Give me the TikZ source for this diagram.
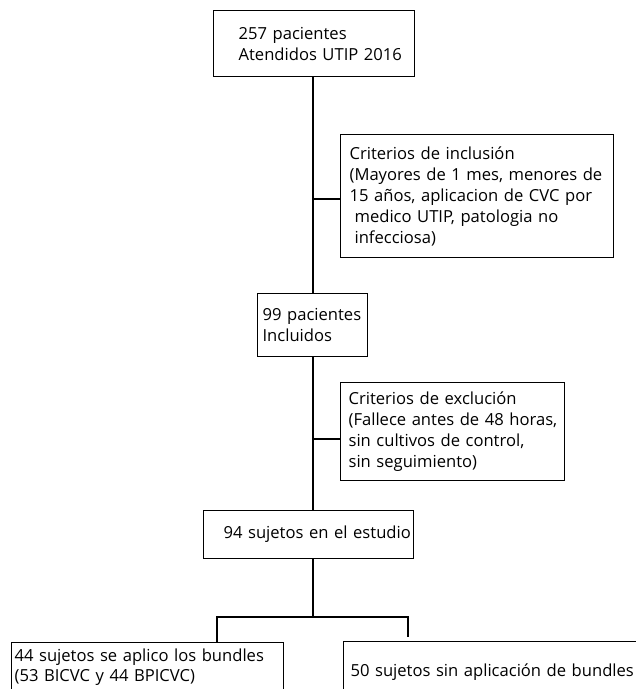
\documentclass[tikz,border=0pt]{standalone}
\usepackage{fontspec}
\setmainfont{Open Sans}
\begin{document}
\begin{tikzpicture}[x=1pt,y=-1pt,
  every node/.style={font=\fontsize{16.6}{21}\selectfont},
  box/.style={draw, line width=1.2pt, anchor=north west, align=left, inner sep=0pt},
  conn/.style={line width=1.2pt}]
\useasboundingbox (0,0) rectangle (636,689);
\clip (0,0) rectangle (636,689);
% boxes
\node[box, text width=201pt, minimum height=66pt] (top) at (213,10)
  {\leftskip=25pt 257 pacientes\\Atendidos UTIP 2016\par};
\node[box, text width=273pt, minimum height=123pt] (incl) at (340,134)
  {\leftskip=9pt Criterios de inclusión\\(Mayores de 1 mes, menores de\\15 años, aplicacion de CVC por\\\hspace*{5pt}medico UTIP, patologia no\\\hspace*{5pt}infecciosa)\par};
\node[box, text width=110pt, minimum height=63pt] (n99) at (257,293)
  {\leftskip=5pt 99 pacientes\\Incluidos\par};
\node[box, text width=224pt, minimum height=98pt] (excl) at (340,382)
  {\leftskip=8pt Criterios de exclución\\(Fallece antes de 48 horas,\\sin cultivos de control,\\sin seguimiento)\par};
\node[box, text width=210pt, minimum height=48pt] (n94) at (203,510)
  {\leftskip=20pt 94 sujetos en el estudio\par};
\node[box, font=\fontsize{16.6}{20}\selectfont, text width=272pt, minimum height=50pt] (left) at (11,642)
  {\leftskip=3pt 44 sujetos se aplico los bundles\\(53 BICVC y 44 BPICVC)\par};
\node[box, text width=320pt, minimum height=62pt] (right) at (343,641)
  {\leftskip=7pt 50 sujetos sin aplicación de bundles\par};
% connectors
\coordinate (tx) at (313,0);
\coordinate (split) at (313,617);
\draw[conn] (top.south -| tx) -- (n99.north -| tx);
\draw[conn] (tx |- 0,199) -- (incl.west |- 0,199);
\draw[conn] (n99.south -| tx) -- (n94.north -| tx);
\draw[conn] (tx |- 0,439) -- (excl.west |- 0,439);
\draw[conn] (n94.south -| tx) -- (split);
\draw[conn] (left.north -| 217,0) |- (split) -| ([yshift=4pt]right.north -| 408,0);
\end{tikzpicture}
\end{document}
